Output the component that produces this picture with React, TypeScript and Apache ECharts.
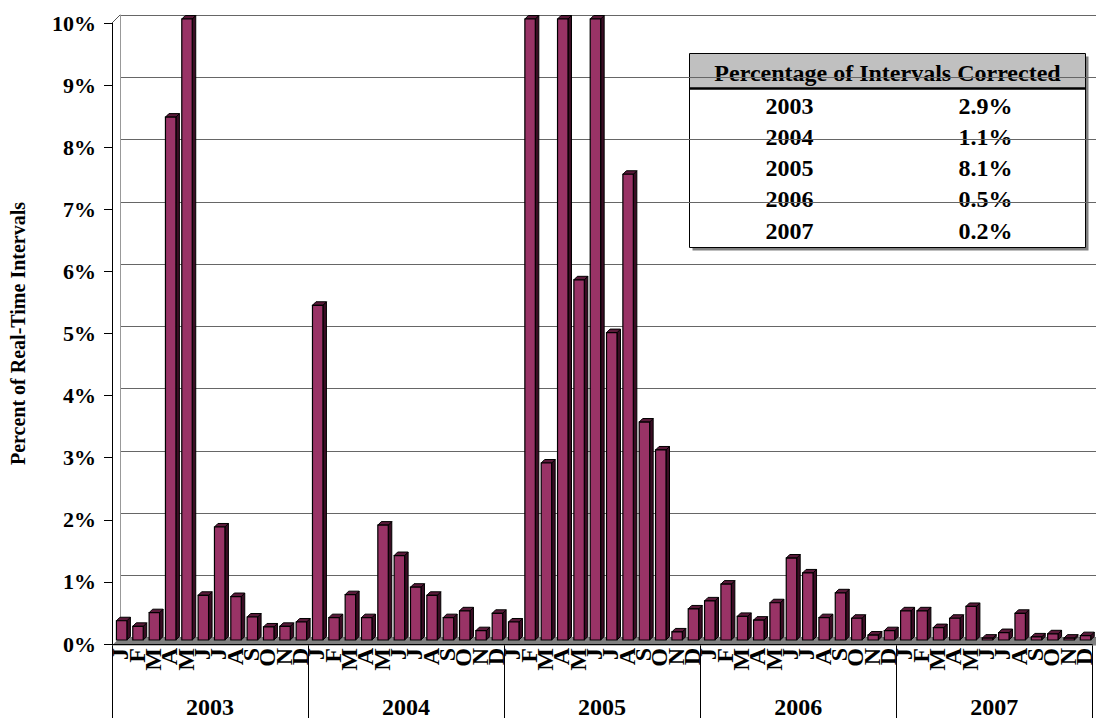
import React, { useEffect, useRef } from 'react';
import * as echarts from 'echarts';

const months = ['J', 'F', 'M', 'A', 'M', 'J', 'J', 'A', 'S', 'O', 'N', 'D'];
const years = ['2003', '2004', '2005', '2006', '2007'];

const v2003 = [0.31, 0.22, 0.44, 8.42, 10, 0.72, 1.82, 0.7, 0.37, 0.21, 0.22, 0.29];
const v2004 = [5.39, 0.36, 0.73, 0.36, 1.85, 1.36, 0.85, 0.72, 0.36, 0.47, 0.15, 0.43];
const v2005 = [0.29, 10, 2.85, 10, 5.8, 10, 4.95, 7.5, 3.51, 3.06, 0.13, 0.5];
const v2006 = [0.63, 0.9, 0.38, 0.32, 0.6, 1.32, 1.08, 0.36, 0.76, 0.35, 0.08, 0.15];
const v2007 = [0.47, 0.47, 0.2, 0.35, 0.54, 0.03, 0.12, 0.43, 0.05, 0.1, 0.03, 0.07];

const tableTitle = 'Percentage of Intervals Corrected';
const tableYears = ['2003', '2004', '2005', '2006', '2007'];
const tablePct = ['2.9%', '1.1%', '8.1%', '0.5%', '0.2%'];

const yAxisName = 'Percent of Real-Time Intervals';

const FONT = '"Liberation Serif", "Times New Roman", serif';

export default function App() {
  const ref = useRef<HTMLDivElement>(null);

  useEffect(() => {
    document.body.style.margin = '0';
    if (!ref.current) return;
    const chart = echarts.init(ref.current, undefined, { renderer: 'svg' });

    const yearValues = [v2003, v2004, v2005, v2006, v2007];
    const monthCats: string[] = [];
    years.forEach(() => months.forEach((m) => monthCats.push(m)));
    const data: number[][] = [];
    yearValues.forEach((arr) => arr.forEach((v) => data.push([data.length, v])));

    const renderItem = (params: any, api: any) => {
      const idx = api.value(0);
      const v = Math.min(api.value(1), 10);
      const top = api.coord([idx, v]);
      const base = api.coord([idx, 0]);
      const band = api.size([1, 0])[0];
      const w = band * 0.64;
      const d = 3.5;
      const cx = top[0] + 1.5;
      const x0 = cx - w / 2;
      const x1 = x0 + w;
      const yt = top[1] - 4;
      const yb = base[1] - 4;
      return {
        type: 'group',
        children: [
          {
            type: 'polygon',
            shape: { points: [[x1, yt], [x1 + d, yt - d], [x1 + d, yb - d], [x1, yb]] },
            style: { fill: '#3a0d24', stroke: '#000', lineWidth: 1 },
          },
          {
            type: 'polygon',
            shape: { points: [[x0, yt], [x0 + d, yt - d], [x1 + d, yt - d], [x1, yt]] },
            style: { fill: '#5a1a3a', stroke: '#000', lineWidth: 1 },
          },
          {
            type: 'rect',
            shape: { x: x0, y: yt, width: w, height: yb - yt },
            style: { fill: '#993366', stroke: '#000', lineWidth: 1.2 },
          },
        ],
      };
    };

    const rowStart = 52;
    const rowStep = 31.25;
    const tableChildren: any[] = [
      { type: 'rect', shape: { x: 3, y: 3, width: 396, height: 194 }, style: { fill: '#808080' } },
      { type: 'rect', shape: { x: 0, y: 0, width: 396, height: 194 }, style: { fill: '#fff', stroke: '#000', lineWidth: 1 } },
      { type: 'rect', shape: { x: 0.5, y: 0.5, width: 395, height: 34 }, style: { fill: '#c0c0c0' } },
      { type: 'line', shape: { x1: 0, y1: 35, x2: 396, y2: 35 }, style: { stroke: '#000', lineWidth: 2.5 } },
      {
        type: 'text',
        x: 198,
        y: 19,
        style: { text: tableTitle, fill: '#000', font: `bold 24px ${FONT}`, align: 'center', verticalAlign: 'middle' },
      },
    ];
    tableYears.forEach((yr, i) => {
      tableChildren.push({
        type: 'text',
        x: 100,
        y: rowStart + i * rowStep,
        style: { text: yr, fill: '#000', font: `bold 24px ${FONT}`, align: 'center', verticalAlign: 'middle' },
      });
      tableChildren.push({
        type: 'text',
        x: 296,
        y: rowStart + i * rowStep,
        style: { text: tablePct[i], fill: '#000', font: `bold 24px ${FONT}`, align: 'center', verticalAlign: 'middle' },
      });
    });

    const option: any = {
      animation: false,
      grid: [
        { left: 112, right: 0, top: 23, height: 622.5 },
        { left: 120, right: -8, top: 15, height: 622.5 },
      ],
      xAxis: [
        {
          type: 'category',
          gridIndex: 0,
          data: monthCats,
          axisLine: { show: true, lineStyle: { color: '#000', width: 1 } },
          axisTick: { show: false },
          axisLabel: {
            interval: 0,
            rotate: 90,
            margin: 4,
            fontSize: 24,
            fontWeight: 'bold',
            fontFamily: FONT,
            color: '#000',
          },
          z: 6,
        },
        {
          type: 'category',
          gridIndex: 0,
          data: years,
          position: 'bottom',
          axisLine: { show: false },
          axisTick: { show: true, length: 74, lineStyle: { color: '#000' } },
          axisLabel: { margin: 51, fontSize: 24, fontWeight: 'bold', fontFamily: FONT, color: '#000' },
        },
        { type: 'category', gridIndex: 1, data: monthCats, show: false },
      ],
      yAxis: [
        {
          type: 'value',
          gridIndex: 0,
          min: 0,
          max: 10,
          interval: 1,
          axisLine: { show: true, lineStyle: { color: '#000' } },
          axisTick: { show: true, length: 8, lineStyle: { color: '#000' } },
          splitLine: { show: false },
          axisLabel: {
            formatter: '{value}%',
            margin: 16,
            fontSize: 22,
            fontWeight: 'bold',
            fontFamily: FONT,
            color: '#000',
          },
          name: yAxisName,
          nameLocation: 'middle',
          nameGap: 84,
          nameTextStyle: { fontSize: 20, fontWeight: 'bold', fontFamily: FONT, color: '#000' },
        },
        {
          type: 'value',
          gridIndex: 1,
          min: 0,
          max: 10,
          interval: 1,
          axisLine: { show: true, lineStyle: { color: '#999' } },
          axisTick: { show: false },
          axisLabel: { show: false },
          splitLine: { show: true, lineStyle: { color: '#666' } },
        },
      ],
      series: [
        {
          type: 'custom',
          xAxisIndex: 0,
          yAxisIndex: 0,
          data,
          encode: { x: 0, y: 1 },
          renderItem,
          z: 5,
        },
      ],
      graphic: [
        {
          type: 'polygon',
          z: 1,
          shape: { points: [[112, 645.5], [1096, 645.5], [1104, 637.5], [120, 637.5]] },
          style: { fill: '#808080' },
        },
        {
          type: 'line',
          z: 1,
          shape: { x1: 112, y1: 23, x2: 120, y2: 15 },
          style: { stroke: '#555', lineWidth: 1 },
        },
        {
          type: 'group',
          left: 687,
          top: 53,
          z: 10,
          children: tableChildren,
        },
      ],
    };

    chart.setOption(option);
    return () => chart.dispose();
  }, []);

  return <div ref={ref} style={{ position: 'absolute', left: 0, top: 0, width: 1096, height: 719 }} />;
}
